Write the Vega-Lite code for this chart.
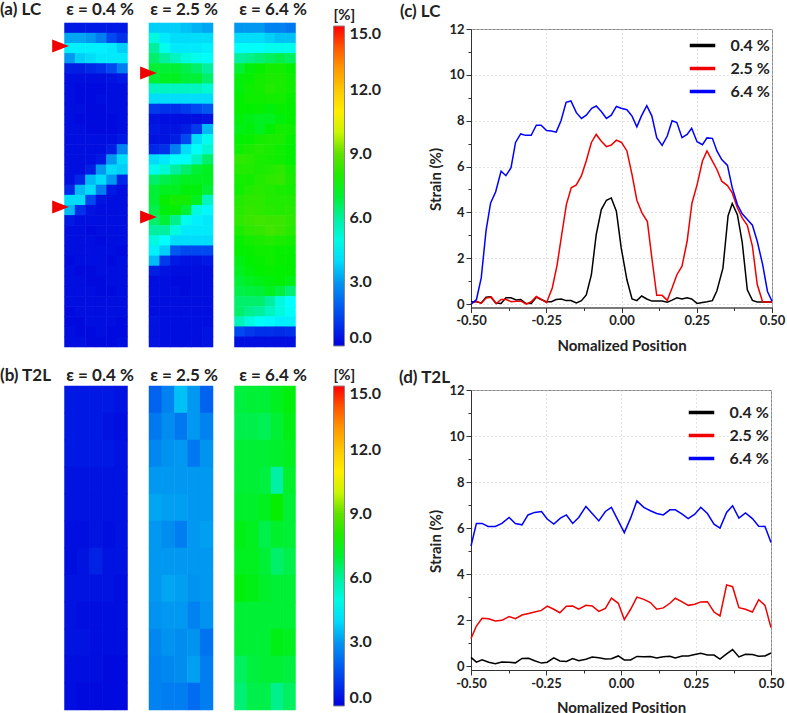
{"$schema":"https://vega.github.io/schema/vega-lite/v6.json","padding":0,"background":"white",
"datasets":{
"one":[{"n":1}],
"tA1":[{"p":-0.063,"q":0.071},{"p":-0.063,"q":0.568}],
"tA2":[{"p":-0.008,"q":0.154},{"p":-0.008,"q":0.599}],
"bar":[{"k":1.5},{"k":3},{"k":4.5},{"k":6},{"k":7.5},{"k":9},{"k":10.5},{"k":12},{"k":13.5}],
"a1":[
{"c":0,"r":0,"v":0.5},{"c":1,"r":0,"v":0.5},{"c":2,"r":0,"v":0.5},{"c":3,"r":0,"v":0.5},{"c":4,"r":0,"v":0.5},{"c":5,"r":0,"v":0.5},
{"c":0,"r":1,"v":3.2},{"c":1,"r":1,"v":3.2},{"c":2,"r":1,"v":3},{"c":3,"r":1,"v":2.5},{"c":4,"r":1,"v":1.5},{"c":5,"r":1,"v":1},
{"c":0,"r":2,"v":4.3},{"c":1,"r":2,"v":4.3},{"c":2,"r":2,"v":4.3},{"c":3,"r":2,"v":4.3},{"c":4,"r":2,"v":4.2},{"c":5,"r":2,"v":3.8},
{"c":0,"r":3,"v":3},{"c":1,"r":3,"v":3.8},{"c":2,"r":3,"v":4},{"c":3,"r":3,"v":4.2},{"c":4,"r":3,"v":4.2},{"c":5,"r":3,"v":4.2},
{"c":0,"r":4,"v":0.6},{"c":1,"r":4,"v":0.6},{"c":2,"r":4,"v":0.8},{"c":3,"r":4,"v":1},{"c":4,"r":4,"v":1.5},{"c":5,"r":4,"v":2.5},
{"c":0,"r":5,"v":0.3},{"c":1,"r":5,"v":0.3},{"c":2,"r":5,"v":0.3},{"c":3,"r":5,"v":0.3},{"c":4,"r":5,"v":0.4},{"c":5,"r":5,"v":0.5},
{"c":0,"r":6,"v":0.3},{"c":1,"r":6,"v":0.2},{"c":2,"r":6,"v":0.2},{"c":3,"r":6,"v":0.2},{"c":4,"r":6,"v":0.3},{"c":5,"r":6,"v":0.3},
{"c":0,"r":7,"v":0.3},{"c":1,"r":7,"v":0.2},{"c":2,"r":7,"v":0.2},{"c":3,"r":7,"v":0.3},{"c":4,"r":7,"v":0.3},{"c":5,"r":7,"v":0.3},
{"c":0,"r":8,"v":0.3},{"c":1,"r":8,"v":0.3},{"c":2,"r":8,"v":0.2},{"c":3,"r":8,"v":0.2},{"c":4,"r":8,"v":0.3},{"c":5,"r":8,"v":0.3},
{"c":0,"r":9,"v":0.3},{"c":1,"r":9,"v":0.2},{"c":2,"r":9,"v":0.2},{"c":3,"r":9,"v":0.2},{"c":4,"r":9,"v":0.2},{"c":5,"r":9,"v":0.3},
{"c":0,"r":10,"v":0.3},{"c":1,"r":10,"v":0.3},{"c":2,"r":10,"v":0.2},{"c":3,"r":10,"v":0.2},{"c":4,"r":10,"v":0.2},{"c":5,"r":10,"v":0.3},
{"c":0,"r":11,"v":0.3},{"c":1,"r":11,"v":0.3},{"c":2,"r":11,"v":0.3},{"c":3,"r":11,"v":0.3},{"c":4,"r":11,"v":0.3},{"c":5,"r":11,"v":0.5},
{"c":0,"r":12,"v":0.3},{"c":1,"r":12,"v":0.3},{"c":2,"r":12,"v":0.3},{"c":3,"r":12,"v":0.3},{"c":4,"r":12,"v":0.6},{"c":5,"r":12,"v":2.6},
{"c":0,"r":13,"v":0.3},{"c":1,"r":13,"v":0.3},{"c":2,"r":13,"v":0.3},{"c":3,"r":13,"v":0.5},{"c":4,"r":13,"v":3},{"c":5,"r":13,"v":4},
{"c":0,"r":14,"v":0.3},{"c":1,"r":14,"v":0.3},{"c":2,"r":14,"v":0.6},{"c":3,"r":14,"v":3},{"c":4,"r":14,"v":4},{"c":5,"r":14,"v":3.8},
{"c":0,"r":15,"v":0.3},{"c":1,"r":15,"v":0.8},{"c":2,"r":15,"v":3.5},{"c":3,"r":15,"v":4},{"c":4,"r":15,"v":3},{"c":5,"r":15,"v":0.8},
{"c":0,"r":16,"v":0.8},{"c":1,"r":16,"v":3.5},{"c":2,"r":16,"v":4},{"c":3,"r":16,"v":2.5},{"c":4,"r":16,"v":0.5},{"c":5,"r":16,"v":0.3},
{"c":0,"r":17,"v":4},{"c":1,"r":17,"v":4},{"c":2,"r":17,"v":1.5},{"c":3,"r":17,"v":0.4},{"c":4,"r":17,"v":0.3},{"c":5,"r":17,"v":0.3},
{"c":0,"r":18,"v":3.5},{"c":1,"r":18,"v":1},{"c":2,"r":18,"v":0.4},{"c":3,"r":18,"v":0.3},{"c":4,"r":18,"v":0.3},{"c":5,"r":18,"v":0.3},
{"c":0,"r":19,"v":0.5},{"c":1,"r":19,"v":0.3},{"c":2,"r":19,"v":0.3},{"c":3,"r":19,"v":0.3},{"c":4,"r":19,"v":0.3},{"c":5,"r":19,"v":0.3},
{"c":0,"r":20,"v":0.3},{"c":1,"r":20,"v":0.3},{"c":2,"r":20,"v":0.2},{"c":3,"r":20,"v":0.3},{"c":4,"r":20,"v":0.3},{"c":5,"r":20,"v":0.3},
{"c":0,"r":21,"v":0.3},{"c":1,"r":21,"v":0.3},{"c":2,"r":21,"v":0.3},{"c":3,"r":21,"v":0.2},{"c":4,"r":21,"v":0.3},{"c":5,"r":21,"v":0.3},
{"c":0,"r":22,"v":0.3},{"c":1,"r":22,"v":0.3},{"c":2,"r":22,"v":0.3},{"c":3,"r":22,"v":0.3},{"c":4,"r":22,"v":0.3},{"c":5,"r":22,"v":0.2},
{"c":0,"r":23,"v":0.2},{"c":1,"r":23,"v":0.3},{"c":2,"r":23,"v":0.3},{"c":3,"r":23,"v":0.3},{"c":4,"r":23,"v":0.2},{"c":5,"r":23,"v":0.3},
{"c":0,"r":24,"v":0.3},{"c":1,"r":24,"v":0.2},{"c":2,"r":24,"v":0.2},{"c":3,"r":24,"v":0.3},{"c":4,"r":24,"v":0.3},{"c":5,"r":24,"v":0.3},
{"c":0,"r":25,"v":0.3},{"c":1,"r":25,"v":0.3},{"c":2,"r":25,"v":0.2},{"c":3,"r":25,"v":0.2},{"c":4,"r":25,"v":0.3},{"c":5,"r":25,"v":0.3},
{"c":0,"r":26,"v":0.3},{"c":1,"r":26,"v":0.3},{"c":2,"r":26,"v":0.3},{"c":3,"r":26,"v":0.2},{"c":4,"r":26,"v":0.2},{"c":5,"r":26,"v":0.3},
{"c":0,"r":27,"v":0.3},{"c":1,"r":27,"v":0.3},{"c":2,"r":27,"v":0.3},{"c":3,"r":27,"v":0.3},{"c":4,"r":27,"v":0.3},{"c":5,"r":27,"v":0.3},
{"c":0,"r":28,"v":0.2},{"c":1,"r":28,"v":0.3},{"c":2,"r":28,"v":0.3},{"c":3,"r":28,"v":0.3},{"c":4,"r":28,"v":0.3},{"c":5,"r":28,"v":0.3},
{"c":0,"r":29,"v":0.2},{"c":1,"r":29,"v":0.2},{"c":2,"r":29,"v":0.3},{"c":3,"r":29,"v":0.3},{"c":4,"r":29,"v":0.3},{"c":5,"r":29,"v":0.2},
{"c":0,"r":30,"v":0.3},{"c":1,"r":30,"v":0.2},{"c":2,"r":30,"v":0.2},{"c":3,"r":30,"v":0.3},{"c":4,"r":30,"v":0.2},{"c":5,"r":30,"v":0.2},
{"c":0,"r":31,"v":0.3},{"c":1,"r":31,"v":0.3},{"c":2,"r":31,"v":0.2},{"c":3,"r":31,"v":0.2},{"c":4,"r":31,"v":0.2},{"c":5,"r":31,"v":0.3}],
"a2":[
{"c":0,"r":0,"v":3.8},{"c":1,"r":0,"v":3.8},{"c":2,"r":0,"v":3.8},{"c":3,"r":0,"v":3.6},{"c":4,"r":0,"v":3.4},{"c":5,"r":0,"v":3.2},
{"c":0,"r":1,"v":5},{"c":1,"r":1,"v":4.2},{"c":2,"r":1,"v":4},{"c":3,"r":1,"v":4},{"c":4,"r":1,"v":4},{"c":5,"r":1,"v":4},
{"c":0,"r":2,"v":6},{"c":1,"r":2,"v":4.8},{"c":2,"r":2,"v":4.2},{"c":3,"r":2,"v":4.2},{"c":4,"r":2,"v":4.2},{"c":5,"r":2,"v":4.3},
{"c":0,"r":3,"v":6.5},{"c":1,"r":3,"v":6},{"c":2,"r":3,"v":5.5},{"c":3,"r":3,"v":5},{"c":4,"r":3,"v":4.8},{"c":5,"r":3,"v":4.6},
{"c":0,"r":4,"v":7},{"c":1,"r":4,"v":7},{"c":2,"r":4,"v":7},{"c":3,"r":4,"v":6.8},{"c":4,"r":4,"v":6.5},{"c":5,"r":4,"v":6},
{"c":0,"r":5,"v":7},{"c":1,"r":5,"v":7.2},{"c":2,"r":5,"v":7.2},{"c":3,"r":5,"v":7},{"c":4,"r":5,"v":7},{"c":5,"r":5,"v":6.5},
{"c":0,"r":6,"v":5.5},{"c":1,"r":6,"v":5.5},{"c":2,"r":6,"v":5.5},{"c":3,"r":6,"v":5.5},{"c":4,"r":6,"v":5.5},{"c":5,"r":6,"v":5.2},
{"c":0,"r":7,"v":4},{"c":1,"r":7,"v":4},{"c":2,"r":7,"v":4},{"c":3,"r":7,"v":4},{"c":4,"r":7,"v":4},{"c":5,"r":7,"v":4},
{"c":0,"r":8,"v":1.2},{"c":1,"r":8,"v":1},{"c":2,"r":8,"v":1},{"c":3,"r":8,"v":1.2},{"c":4,"r":8,"v":1.5},{"c":5,"r":8,"v":1.8},
{"c":0,"r":9,"v":0.4},{"c":1,"r":9,"v":0.3},{"c":2,"r":9,"v":0.3},{"c":3,"r":9,"v":0.3},{"c":4,"r":9,"v":0.3},{"c":5,"r":9,"v":0.4},
{"c":0,"r":10,"v":0.5},{"c":1,"r":10,"v":0.4},{"c":2,"r":10,"v":0.4},{"c":3,"r":10,"v":0.6},{"c":4,"r":10,"v":1.2},{"c":5,"r":10,"v":3.5},
{"c":0,"r":11,"v":0.4},{"c":1,"r":11,"v":0.4},{"c":2,"r":11,"v":0.6},{"c":3,"r":11,"v":1.5},{"c":4,"r":11,"v":4},{"c":5,"r":11,"v":4.8},
{"c":0,"r":12,"v":0.8},{"c":1,"r":12,"v":1},{"c":2,"r":12,"v":2.5},{"c":3,"r":12,"v":4},{"c":4,"r":12,"v":4.6},{"c":5,"r":12,"v":5.2},
{"c":0,"r":13,"v":4},{"c":1,"r":13,"v":4.2},{"c":2,"r":13,"v":4.5},{"c":3,"r":13,"v":4.6},{"c":4,"r":13,"v":5.5},{"c":5,"r":13,"v":6.5},
{"c":0,"r":14,"v":4.8},{"c":1,"r":14,"v":5.2},{"c":2,"r":14,"v":6},{"c":3,"r":14,"v":6.5},{"c":4,"r":14,"v":7},{"c":5,"r":14,"v":7.2},
{"c":0,"r":15,"v":6.5},{"c":1,"r":15,"v":6.8},{"c":2,"r":15,"v":7},{"c":3,"r":15,"v":7.2},{"c":4,"r":15,"v":7.2},{"c":5,"r":15,"v":7.2},
{"c":0,"r":16,"v":7},{"c":1,"r":16,"v":7.2},{"c":2,"r":16,"v":7.2},{"c":3,"r":16,"v":7.4},{"c":4,"r":16,"v":7.4},{"c":5,"r":16,"v":7},
{"c":0,"r":17,"v":7},{"c":1,"r":17,"v":7.6},{"c":2,"r":17,"v":7.8},{"c":3,"r":17,"v":7.8},{"c":4,"r":17,"v":7.2},{"c":5,"r":17,"v":5.5},
{"c":0,"r":18,"v":6.8},{"c":1,"r":18,"v":7.4},{"c":2,"r":18,"v":7.6},{"c":3,"r":18,"v":7},{"c":4,"r":18,"v":5},{"c":5,"r":18,"v":4.4},
{"c":0,"r":19,"v":6.5},{"c":1,"r":19,"v":7},{"c":2,"r":19,"v":6.2},{"c":3,"r":19,"v":4.8},{"c":4,"r":19,"v":4.3},{"c":5,"r":19,"v":4.2},
{"c":0,"r":20,"v":6},{"c":1,"r":20,"v":6},{"c":2,"r":20,"v":5},{"c":3,"r":20,"v":4.2},{"c":4,"r":20,"v":4.2},{"c":5,"r":20,"v":4.2},
{"c":0,"r":21,"v":5},{"c":1,"r":21,"v":4.5},{"c":2,"r":21,"v":4},{"c":3,"r":21,"v":4},{"c":4,"r":21,"v":4},{"c":5,"r":21,"v":4},
{"c":0,"r":22,"v":4.3},{"c":1,"r":22,"v":3.8},{"c":2,"r":22,"v":1.8},{"c":3,"r":22,"v":1.5},{"c":4,"r":22,"v":1.5},{"c":5,"r":22,"v":1.5},
{"c":0,"r":23,"v":3.5},{"c":1,"r":23,"v":1.2},{"c":2,"r":23,"v":0.5},{"c":3,"r":23,"v":0.4},{"c":4,"r":23,"v":0.4},{"c":5,"r":23,"v":0.5},
{"c":0,"r":24,"v":0.6},{"c":1,"r":24,"v":0.4},{"c":2,"r":24,"v":0.3},{"c":3,"r":24,"v":0.3},{"c":4,"r":24,"v":0.3},{"c":5,"r":24,"v":0.3},
{"c":0,"r":25,"v":0.3},{"c":1,"r":25,"v":0.3},{"c":2,"r":25,"v":0.2},{"c":3,"r":25,"v":0.2},{"c":4,"r":25,"v":0.3},{"c":5,"r":25,"v":0.3},
{"c":0,"r":26,"v":0.3},{"c":1,"r":26,"v":0.3},{"c":2,"r":26,"v":0.3},{"c":3,"r":26,"v":0.2},{"c":4,"r":26,"v":0.3},{"c":5,"r":26,"v":0.3},
{"c":0,"r":27,"v":0.3},{"c":1,"r":27,"v":0.3},{"c":2,"r":27,"v":0.3},{"c":3,"r":27,"v":0.3},{"c":4,"r":27,"v":0.3},{"c":5,"r":27,"v":0.3},
{"c":0,"r":28,"v":0.3},{"c":1,"r":28,"v":0.3},{"c":2,"r":28,"v":0.3},{"c":3,"r":28,"v":0.3},{"c":4,"r":28,"v":0.3},{"c":5,"r":28,"v":0.3},
{"c":0,"r":29,"v":0.4},{"c":1,"r":29,"v":0.3},{"c":2,"r":29,"v":0.3},{"c":3,"r":29,"v":0.3},{"c":4,"r":29,"v":0.3},{"c":5,"r":29,"v":0.3},
{"c":0,"r":30,"v":0.4},{"c":1,"r":30,"v":0.3},{"c":2,"r":30,"v":0.3},{"c":3,"r":30,"v":0.3},{"c":4,"r":30,"v":0.3},{"c":5,"r":30,"v":0.4},
{"c":0,"r":31,"v":0.4},{"c":1,"r":31,"v":0.3},{"c":2,"r":31,"v":0.3},{"c":3,"r":31,"v":0.3},{"c":4,"r":31,"v":0.3},{"c":5,"r":31,"v":0.4}],
"a3":[
{"c":0,"r":0,"v":3},{"c":1,"r":0,"v":3},{"c":2,"r":0,"v":3},{"c":3,"r":0,"v":2.6},{"c":4,"r":0,"v":2.6},{"c":5,"r":0,"v":2.4},
{"c":0,"r":1,"v":4},{"c":1,"r":1,"v":4},{"c":2,"r":1,"v":4},{"c":3,"r":1,"v":3.8},{"c":4,"r":1,"v":3.6},{"c":5,"r":1,"v":3.6},
{"c":0,"r":2,"v":4.6},{"c":1,"r":2,"v":4.6},{"c":2,"r":2,"v":4.6},{"c":3,"r":2,"v":4.8},{"c":4,"r":2,"v":4.8},{"c":5,"r":2,"v":4.8},
{"c":0,"r":3,"v":6},{"c":1,"r":3,"v":6.2},{"c":2,"r":3,"v":6.4},{"c":3,"r":3,"v":6.6},{"c":4,"r":3,"v":6.8},{"c":5,"r":3,"v":6.6},
{"c":0,"r":4,"v":7},{"c":1,"r":4,"v":7.4},{"c":2,"r":4,"v":7.6},{"c":3,"r":4,"v":7.8},{"c":4,"r":4,"v":7.8},{"c":5,"r":4,"v":7.6},
{"c":0,"r":5,"v":7.4},{"c":1,"r":5,"v":7.6},{"c":2,"r":5,"v":7.8},{"c":3,"r":5,"v":7.9},{"c":4,"r":5,"v":7.9},{"c":5,"r":5,"v":7.7},
{"c":0,"r":6,"v":7.4},{"c":1,"r":6,"v":7.7},{"c":2,"r":6,"v":7.8},{"c":3,"r":6,"v":8},{"c":4,"r":6,"v":7.9},{"c":5,"r":6,"v":7.7},
{"c":0,"r":7,"v":7.5},{"c":1,"r":7,"v":7.7},{"c":2,"r":7,"v":7.7},{"c":3,"r":7,"v":7.8},{"c":4,"r":7,"v":7.8},{"c":5,"r":7,"v":7.6},
{"c":0,"r":8,"v":7.5},{"c":1,"r":8,"v":7.5},{"c":2,"r":8,"v":7.6},{"c":3,"r":8,"v":7.4},{"c":4,"r":8,"v":7.6},{"c":5,"r":8,"v":7.5},
{"c":0,"r":9,"v":7.4},{"c":1,"r":9,"v":7.3},{"c":2,"r":9,"v":7.2},{"c":3,"r":9,"v":7.2},{"c":4,"r":9,"v":7.4},{"c":5,"r":9,"v":7.5},
{"c":0,"r":10,"v":7.3},{"c":1,"r":10,"v":7.4},{"c":2,"r":10,"v":7.2},{"c":3,"r":10,"v":7.5},{"c":4,"r":10,"v":7.8},{"c":5,"r":10,"v":7.7},
{"c":0,"r":11,"v":7.5},{"c":1,"r":11,"v":7.6},{"c":2,"r":11,"v":7.8},{"c":3,"r":11,"v":7.9},{"c":4,"r":11,"v":7.9},{"c":5,"r":11,"v":7.6},
{"c":0,"r":12,"v":7.7},{"c":1,"r":12,"v":7.9},{"c":2,"r":12,"v":8},{"c":3,"r":12,"v":7.9},{"c":4,"r":12,"v":7.7},{"c":5,"r":12,"v":7.5},
{"c":0,"r":13,"v":8.2},{"c":1,"r":13,"v":8.1},{"c":2,"r":13,"v":7.9},{"c":3,"r":13,"v":7.8},{"c":4,"r":13,"v":7.7},{"c":5,"r":13,"v":7.5},
{"c":0,"r":14,"v":8},{"c":1,"r":14,"v":8},{"c":2,"r":14,"v":7.9},{"c":3,"r":14,"v":8},{"c":4,"r":14,"v":8.2},{"c":5,"r":14,"v":7.8},
{"c":0,"r":15,"v":7.8},{"c":1,"r":15,"v":7.8},{"c":2,"r":15,"v":8},{"c":3,"r":15,"v":8.2},{"c":4,"r":15,"v":8.3},{"c":5,"r":15,"v":7.9},
{"c":0,"r":16,"v":7.7},{"c":1,"r":16,"v":8},{"c":2,"r":16,"v":8.1},{"c":3,"r":16,"v":8},{"c":4,"r":16,"v":7.9},{"c":5,"r":16,"v":7.8},
{"c":0,"r":17,"v":8},{"c":1,"r":17,"v":8.2},{"c":2,"r":17,"v":8.2},{"c":3,"r":17,"v":8},{"c":4,"r":17,"v":8},{"c":5,"r":17,"v":8},
{"c":0,"r":18,"v":8.1},{"c":1,"r":18,"v":8.3},{"c":2,"r":18,"v":8.2},{"c":3,"r":18,"v":8.1},{"c":4,"r":18,"v":8},{"c":5,"r":18,"v":8.1},
{"c":0,"r":19,"v":8.2},{"c":1,"r":19,"v":8.4},{"c":2,"r":19,"v":8.5},{"c":3,"r":19,"v":8.4},{"c":4,"r":19,"v":8.4},{"c":5,"r":19,"v":8.2},
{"c":0,"r":20,"v":7.9},{"c":1,"r":20,"v":8.2},{"c":2,"r":20,"v":8.3},{"c":3,"r":20,"v":8.5},{"c":4,"r":20,"v":8.4},{"c":5,"r":20,"v":8.1},
{"c":0,"r":21,"v":7.6},{"c":1,"r":21,"v":7.8},{"c":2,"r":21,"v":7.9},{"c":3,"r":21,"v":8},{"c":4,"r":21,"v":7.9},{"c":5,"r":21,"v":7.8},
{"c":0,"r":22,"v":7.5},{"c":1,"r":22,"v":7.6},{"c":2,"r":22,"v":7.7},{"c":3,"r":22,"v":7.7},{"c":4,"r":22,"v":7.6},{"c":5,"r":22,"v":7.6},
{"c":0,"r":23,"v":7.3},{"c":1,"r":23,"v":7.5},{"c":2,"r":23,"v":7.6},{"c":3,"r":23,"v":7.7},{"c":4,"r":23,"v":7.6},{"c":5,"r":23,"v":7.5},
{"c":0,"r":24,"v":7.2},{"c":1,"r":24,"v":7.4},{"c":2,"r":24,"v":7.5},{"c":3,"r":24,"v":7.6},{"c":4,"r":24,"v":7.5},{"c":5,"r":24,"v":7.5},
{"c":0,"r":25,"v":7},{"c":1,"r":25,"v":7.2},{"c":2,"r":25,"v":7.3},{"c":3,"r":25,"v":7.4},{"c":4,"r":25,"v":7.5},{"c":5,"r":25,"v":7.3},
{"c":0,"r":26,"v":6.8},{"c":1,"r":26,"v":6.9},{"c":2,"r":26,"v":7},{"c":3,"r":26,"v":7.2},{"c":4,"r":26,"v":6.9},{"c":5,"r":26,"v":6.4},
{"c":0,"r":27,"v":6.5},{"c":1,"r":27,"v":6.5},{"c":2,"r":27,"v":6.5},{"c":3,"r":27,"v":6},{"c":4,"r":27,"v":5},{"c":5,"r":27,"v":4.5},
{"c":0,"r":28,"v":6.5},{"c":1,"r":28,"v":6.2},{"c":2,"r":28,"v":6},{"c":3,"r":28,"v":5.5},{"c":4,"r":28,"v":5},{"c":5,"r":28,"v":4.6},
{"c":0,"r":29,"v":5.6},{"c":1,"r":29,"v":5},{"c":2,"r":29,"v":4.6},{"c":3,"r":29,"v":4.4},{"c":4,"r":29,"v":4.3},{"c":5,"r":29,"v":4.3},
{"c":0,"r":30,"v":1.5},{"c":1,"r":30,"v":1.2},{"c":2,"r":30,"v":1},{"c":3,"r":30,"v":1},{"c":4,"r":30,"v":0.9},{"c":5,"r":30,"v":1},
{"c":0,"r":31,"v":0.3},{"c":1,"r":31,"v":0.3},{"c":2,"r":31,"v":0.3},{"c":3,"r":31,"v":0.3},{"c":4,"r":31,"v":0.3},{"c":5,"r":31,"v":0.3}],
"b1":[
{"c":0,"r":0,"v":0.5},{"c":1,"r":0,"v":0.5},{"c":2,"r":0,"v":0.5},{"c":3,"r":0,"v":0.5},{"c":4,"r":0,"v":0.4},
{"c":0,"r":1,"v":0.5},{"c":1,"r":1,"v":0.5},{"c":2,"r":1,"v":0.5},{"c":3,"r":1,"v":0.4},{"c":4,"r":1,"v":0.3},
{"c":0,"r":2,"v":0.5},{"c":1,"r":2,"v":0.5},{"c":2,"r":2,"v":0.5},{"c":3,"r":2,"v":0.5},{"c":4,"r":2,"v":0.4},
{"c":0,"r":3,"v":0.4},{"c":1,"r":3,"v":0.4},{"c":2,"r":3,"v":0.4},{"c":3,"r":3,"v":0.4},{"c":4,"r":3,"v":0.4},
{"c":0,"r":4,"v":0.4},{"c":1,"r":4,"v":0.4},{"c":2,"r":4,"v":0.4},{"c":3,"r":4,"v":0.4},{"c":4,"r":4,"v":0.4},
{"c":0,"r":5,"v":0.3},{"c":1,"r":5,"v":0.3},{"c":2,"r":5,"v":0.4},{"c":3,"r":5,"v":0.3},{"c":4,"r":5,"v":0.4},
{"c":0,"r":6,"v":0.3},{"c":1,"r":6,"v":0.4},{"c":2,"r":6,"v":0.7},{"c":3,"r":6,"v":0.4},{"c":4,"r":6,"v":0.4},
{"c":0,"r":7,"v":0.4},{"c":1,"r":7,"v":0.4},{"c":2,"r":7,"v":0.4},{"c":3,"r":7,"v":0.4},{"c":4,"r":7,"v":0.3},
{"c":0,"r":8,"v":0.4},{"c":1,"r":8,"v":0.3},{"c":2,"r":8,"v":0.3},{"c":3,"r":8,"v":0.3},{"c":4,"r":8,"v":0.3},
{"c":0,"r":9,"v":0.4},{"c":1,"r":9,"v":0.4},{"c":2,"r":9,"v":0.3},{"c":3,"r":9,"v":0.3},{"c":4,"r":9,"v":0.3},
{"c":0,"r":10,"v":0.3},{"c":1,"r":10,"v":0.3},{"c":2,"r":10,"v":0.3},{"c":3,"r":10,"v":0.2},{"c":4,"r":10,"v":0.2},
{"c":0,"r":11,"v":0.3},{"c":1,"r":11,"v":0.2},{"c":2,"r":11,"v":0.2},{"c":3,"r":11,"v":0.2},{"c":4,"r":11,"v":0.2}],
"b2":[
{"c":0,"r":0,"v":2},{"c":1,"r":0,"v":2.6},{"c":2,"r":0,"v":3.6},{"c":3,"r":0,"v":3},{"c":4,"r":0,"v":2},
{"c":0,"r":1,"v":2.4},{"c":1,"r":1,"v":2.8},{"c":2,"r":1,"v":2.4},{"c":3,"r":1,"v":3},{"c":4,"r":1,"v":2.6},
{"c":0,"r":2,"v":2.7},{"c":1,"r":2,"v":2.9},{"c":2,"r":2,"v":3},{"c":3,"r":2,"v":2.4},{"c":4,"r":2,"v":2.9},
{"c":0,"r":3,"v":3},{"c":1,"r":3,"v":3},{"c":2,"r":3,"v":3},{"c":3,"r":3,"v":3},{"c":4,"r":3,"v":3},
{"c":0,"r":4,"v":3.2},{"c":1,"r":4,"v":3.1},{"c":2,"r":4,"v":3.1},{"c":3,"r":4,"v":3},{"c":4,"r":4,"v":3},
{"c":0,"r":5,"v":3},{"c":1,"r":5,"v":2.8},{"c":2,"r":5,"v":2.5},{"c":3,"r":5,"v":3},{"c":4,"r":5,"v":3.1},
{"c":0,"r":6,"v":3},{"c":1,"r":6,"v":3},{"c":2,"r":6,"v":3},{"c":3,"r":6,"v":3},{"c":4,"r":6,"v":3},
{"c":0,"r":7,"v":3},{"c":1,"r":7,"v":3.2},{"c":2,"r":7,"v":3.1},{"c":3,"r":7,"v":2.9},{"c":4,"r":7,"v":3},
{"c":0,"r":8,"v":2.9},{"c":1,"r":8,"v":3},{"c":2,"r":8,"v":3},{"c":3,"r":8,"v":2.6},{"c":4,"r":8,"v":2.9},
{"c":0,"r":9,"v":2.7},{"c":1,"r":9,"v":2.9},{"c":2,"r":9,"v":2.8},{"c":3,"r":9,"v":2.9},{"c":4,"r":9,"v":2.3},
{"c":0,"r":10,"v":2.6},{"c":1,"r":10,"v":2.7},{"c":2,"r":10,"v":2.8},{"c":3,"r":10,"v":3.1},{"c":4,"r":10,"v":2.5},
{"c":0,"r":11,"v":2.6},{"c":1,"r":11,"v":2.5},{"c":2,"r":11,"v":2.5},{"c":3,"r":11,"v":2.2},{"c":4,"r":11,"v":2.5}],
"b3":[
{"c":0,"r":0,"v":6.9},{"c":1,"r":0,"v":7},{"c":2,"r":0,"v":7},{"c":3,"r":0,"v":7.2},{"c":4,"r":0,"v":7.4},
{"c":0,"r":1,"v":6.8},{"c":1,"r":1,"v":6.8},{"c":2,"r":1,"v":6.7},{"c":3,"r":1,"v":7},{"c":4,"r":1,"v":7.3},
{"c":0,"r":2,"v":7},{"c":1,"r":2,"v":7},{"c":2,"r":2,"v":7},{"c":3,"r":2,"v":7.1},{"c":4,"r":2,"v":7.2},
{"c":0,"r":3,"v":7},{"c":1,"r":3,"v":7},{"c":2,"r":3,"v":6.9},{"c":3,"r":3,"v":5.9},{"c":4,"r":3,"v":7.1},
{"c":0,"r":4,"v":7.1},{"c":1,"r":4,"v":7.1},{"c":2,"r":4,"v":7.2},{"c":3,"r":4,"v":7.6},{"c":4,"r":4,"v":7},
{"c":0,"r":5,"v":7.3},{"c":1,"r":5,"v":7.2},{"c":2,"r":5,"v":6.8},{"c":3,"r":5,"v":7.1},{"c":4,"r":5,"v":7},
{"c":0,"r":6,"v":7.2},{"c":1,"r":6,"v":7.2},{"c":2,"r":6,"v":7},{"c":3,"r":6,"v":6.5},{"c":4,"r":6,"v":6.8},
{"c":0,"r":7,"v":7.4},{"c":1,"r":7,"v":7.3},{"c":2,"r":7,"v":7.1},{"c":3,"r":7,"v":7},{"c":4,"r":7,"v":7},
{"c":0,"r":8,"v":7},{"c":1,"r":8,"v":7},{"c":2,"r":8,"v":7},{"c":3,"r":8,"v":7},{"c":4,"r":8,"v":7},
{"c":0,"r":9,"v":7},{"c":1,"r":9,"v":7},{"c":2,"r":9,"v":7},{"c":3,"r":9,"v":7.3},{"c":4,"r":9,"v":7.2},
{"c":0,"r":10,"v":6.6},{"c":1,"r":10,"v":6.9},{"c":2,"r":10,"v":7},{"c":3,"r":10,"v":7},{"c":4,"r":10,"v":6.9},
{"c":0,"r":11,"v":6.4},{"c":1,"r":11,"v":6.8},{"c":2,"r":11,"v":6.8},{"c":3,"r":11,"v":6.2},{"c":4,"r":11,"v":6.6}],
"c":[
{"s":"0.4 %","p":-0.5,"v":0.1},{"s":"0.4 %","p":-0.482,"v":0.1},{"s":"0.4 %","p":-0.466,"v":0.05},{"s":"0.4 %","p":-0.45,"v":0.3},{"s":"0.4 %","p":-0.435,"v":0.32},{"s":"0.4 %","p":-0.418,"v":0.05},{"s":"0.4 %","p":-0.4,"v":0.03},{"s":"0.4 %","p":-0.384,"v":0.27},{"s":"0.4 %","p":-0.367,"v":0.27},{"s":"0.4 %","p":-0.35,"v":0.18},{"s":"0.4 %","p":-0.335,"v":0.2},{"s":"0.4 %","p":-0.318,"v":0.03},{"s":"0.4 %","p":-0.3,"v":0.02},{"s":"0.4 %","p":-0.283,"v":0.3},{"s":"0.4 %","p":-0.267,"v":0.2},{"s":"0.4 %","p":-0.25,"v":0.1},{"s":"0.4 %","p":-0.233,"v":0.1},{"s":"0.4 %","p":-0.217,"v":0.2},{"s":"0.4 %","p":-0.2,"v":0.22},{"s":"0.4 %","p":-0.184,"v":0.15},{"s":"0.4 %","p":-0.168,"v":0.15},{"s":"0.4 %","p":-0.15,"v":0.05},{"s":"0.4 %","p":-0.133,"v":0.15},{"s":"0.4 %","p":-0.117,"v":0.4},{"s":"0.4 %","p":-0.1,"v":1.28},{"s":"0.4 %","p":-0.084,"v":3.03},{"s":"0.4 %","p":-0.067,"v":4.12},{"s":"0.4 %","p":-0.05,"v":4.53},{"s":"0.4 %","p":-0.034,"v":4.63},{"s":"0.4 %","p":-0.017,"v":4.05},{"s":"0.4 %","p":-0.001,"v":2.45},{"s":"0.4 %","p":0.018,"v":1.06},{"s":"0.4 %","p":0.035,"v":0.22},{"s":"0.4 %","p":0.051,"v":0.15},{"s":"0.4 %","p":0.067,"v":0.35},{"s":"0.4 %","p":0.084,"v":0.22},{"s":"0.4 %","p":0.101,"v":0.13},{"s":"0.4 %","p":0.117,"v":0.13},{"s":"0.4 %","p":0.135,"v":0.13},{"s":"0.4 %","p":0.152,"v":0.08},{"s":"0.4 %","p":0.168,"v":0.17},{"s":"0.4 %","p":0.184,"v":0.27},{"s":"0.4 %","p":0.201,"v":0.22},{"s":"0.4 %","p":0.218,"v":0.27},{"s":"0.4 %","p":0.233,"v":0.22},{"s":"0.4 %","p":0.251,"v":0.03},{"s":"0.4 %","p":0.269,"v":0.07},{"s":"0.4 %","p":0.284,"v":0.1},{"s":"0.4 %","p":0.302,"v":0.15},{"s":"0.4 %","p":0.317,"v":0.58},{"s":"0.4 %","p":0.337,"v":1.57},{"s":"0.4 %","p":0.354,"v":3.85},{"s":"0.4 %","p":0.368,"v":4.39},{"s":"0.4 %","p":0.385,"v":3.9},{"s":"0.4 %","p":0.401,"v":2.7},{"s":"0.4 %","p":0.418,"v":0.62},{"s":"0.4 %","p":0.435,"v":0.16},{"s":"0.4 %","p":0.451,"v":0.09},{"s":"0.4 %","p":0.469,"v":0.09},{"s":"0.4 %","p":0.485,"v":0.09},{"s":"0.4 %","p":0.5,"v":0.09},
{"s":"2.5 %","p":-0.5,"v":0.05},{"s":"2.5 %","p":-0.482,"v":0.12},{"s":"2.5 %","p":-0.466,"v":0.03},{"s":"2.5 %","p":-0.45,"v":0.26},{"s":"2.5 %","p":-0.432,"v":0.3},{"s":"2.5 %","p":-0.416,"v":0.02},{"s":"2.5 %","p":-0.4,"v":0.2},{"s":"2.5 %","p":-0.383,"v":0.2},{"s":"2.5 %","p":-0.366,"v":0.1},{"s":"2.5 %","p":-0.35,"v":0.12},{"s":"2.5 %","p":-0.333,"v":0.12},{"s":"2.5 %","p":-0.316,"v":0},{"s":"2.5 %","p":-0.3,"v":0.1},{"s":"2.5 %","p":-0.283,"v":0.33},{"s":"2.5 %","p":-0.266,"v":0.2},{"s":"2.5 %","p":-0.249,"v":0.06},{"s":"2.5 %","p":-0.23,"v":0.7},{"s":"2.5 %","p":-0.214,"v":1.7},{"s":"2.5 %","p":-0.199,"v":3},{"s":"2.5 %","p":-0.183,"v":4.35},{"s":"2.5 %","p":-0.167,"v":5.07},{"s":"2.5 %","p":-0.15,"v":5.2},{"s":"2.5 %","p":-0.133,"v":5.6},{"s":"2.5 %","p":-0.117,"v":6.25},{"s":"2.5 %","p":-0.1,"v":7.05},{"s":"2.5 %","p":-0.084,"v":7.4},{"s":"2.5 %","p":-0.067,"v":7.1},{"s":"2.5 %","p":-0.05,"v":6.87},{"s":"2.5 %","p":-0.034,"v":6.94},{"s":"2.5 %","p":-0.017,"v":7.15},{"s":"2.5 %","p":0,"v":7.05},{"s":"2.5 %","p":0.018,"v":6.68},{"s":"2.5 %","p":0.035,"v":5.65},{"s":"2.5 %","p":0.051,"v":4.53},{"s":"2.5 %","p":0.068,"v":3.98},{"s":"2.5 %","p":0.086,"v":3.6},{"s":"2.5 %","p":0.101,"v":2},{"s":"2.5 %","p":0.117,"v":0.38},{"s":"2.5 %","p":0.135,"v":0.38},{"s":"2.5 %","p":0.152,"v":0.16},{"s":"2.5 %","p":0.168,"v":0.7},{"s":"2.5 %","p":0.184,"v":1.28},{"s":"2.5 %","p":0.201,"v":1.65},{"s":"2.5 %","p":0.218,"v":2.74},{"s":"2.5 %","p":0.234,"v":4.4},{"s":"2.5 %","p":0.251,"v":5.2},{"s":"2.5 %","p":0.269,"v":6.24},{"s":"2.5 %","p":0.284,"v":6.68},{"s":"2.5 %","p":0.302,"v":6.24},{"s":"2.5 %","p":0.317,"v":5.87},{"s":"2.5 %","p":0.333,"v":5.36},{"s":"2.5 %","p":0.352,"v":5.17},{"s":"2.5 %","p":0.368,"v":4.85},{"s":"2.5 %","p":0.385,"v":4.2},{"s":"2.5 %","p":0.401,"v":3.76},{"s":"2.5 %","p":0.418,"v":3.44},{"s":"2.5 %","p":0.435,"v":2.52},{"s":"2.5 %","p":0.451,"v":0.85},{"s":"2.5 %","p":0.469,"v":0.09},{"s":"2.5 %","p":0.485,"v":0.09},{"s":"2.5 %","p":0.5,"v":0.09},
{"s":"6.4 %","p":-0.5,"v":0},{"s":"6.4 %","p":-0.482,"v":0.19},{"s":"6.4 %","p":-0.466,"v":1.14},{"s":"6.4 %","p":-0.45,"v":3.2},{"s":"6.4 %","p":-0.435,"v":4.4},{"s":"6.4 %","p":-0.418,"v":4.9},{"s":"6.4 %","p":-0.4,"v":5.8},{"s":"6.4 %","p":-0.384,"v":5.6},{"s":"6.4 %","p":-0.367,"v":5.95},{"s":"6.4 %","p":-0.352,"v":7.05},{"s":"6.4 %","p":-0.335,"v":7.42},{"s":"6.4 %","p":-0.318,"v":7.36},{"s":"6.4 %","p":-0.3,"v":7.36},{"s":"6.4 %","p":-0.283,"v":7.8},{"s":"6.4 %","p":-0.267,"v":7.8},{"s":"6.4 %","p":-0.249,"v":7.57},{"s":"6.4 %","p":-0.233,"v":7.55},{"s":"6.4 %","p":-0.217,"v":7.5},{"s":"6.4 %","p":-0.201,"v":8},{"s":"6.4 %","p":-0.184,"v":8.8},{"s":"6.4 %","p":-0.168,"v":8.86},{"s":"6.4 %","p":-0.15,"v":8.35},{"s":"6.4 %","p":-0.133,"v":8.1},{"s":"6.4 %","p":-0.117,"v":8.24},{"s":"6.4 %","p":-0.099,"v":8.54},{"s":"6.4 %","p":-0.084,"v":8.64},{"s":"6.4 %","p":-0.067,"v":8.4},{"s":"6.4 %","p":-0.05,"v":8.1},{"s":"6.4 %","p":-0.034,"v":8.24},{"s":"6.4 %","p":-0.017,"v":8.62},{"s":"6.4 %","p":-0.001,"v":8.54},{"s":"6.4 %","p":0.018,"v":8.48},{"s":"6.4 %","p":0.035,"v":8.2},{"s":"6.4 %","p":0.051,"v":7.73},{"s":"6.4 %","p":0.066,"v":8.2},{"s":"6.4 %","p":0.084,"v":8.66},{"s":"6.4 %","p":0.101,"v":8.2},{"s":"6.4 %","p":0.117,"v":7.26},{"s":"6.4 %","p":0.135,"v":6.92},{"s":"6.4 %","p":0.152,"v":7.33},{"s":"6.4 %","p":0.168,"v":8},{"s":"6.4 %","p":0.184,"v":7.92},{"s":"6.4 %","p":0.201,"v":7.26},{"s":"6.4 %","p":0.218,"v":7.4},{"s":"6.4 %","p":0.233,"v":7.67},{"s":"6.4 %","p":0.251,"v":7.08},{"s":"6.4 %","p":0.269,"v":6.95},{"s":"6.4 %","p":0.284,"v":7.25},{"s":"6.4 %","p":0.302,"v":7.23},{"s":"6.4 %","p":0.317,"v":6.68},{"s":"6.4 %","p":0.333,"v":6.3},{"s":"6.4 %","p":0.352,"v":6.05},{"s":"6.4 %","p":0.368,"v":5.07},{"s":"6.4 %","p":0.385,"v":4.34},{"s":"6.4 %","p":0.401,"v":3.94},{"s":"6.4 %","p":0.418,"v":3.69},{"s":"6.4 %","p":0.435,"v":3.44},{"s":"6.4 %","p":0.451,"v":2.74},{"s":"6.4 %","p":0.469,"v":1.72},{"s":"6.4 %","p":0.485,"v":0.55},{"s":"6.4 %","p":0.5,"v":0.12}],
"d":[
{"s":"0.4 %","p":-0.5,"v":0.38},{"s":"0.4 %","p":-0.482,"v":0.17},{"s":"0.4 %","p":-0.463,"v":0.27},{"s":"0.4 %","p":-0.441,"v":0.17},{"s":"0.4 %","p":-0.419,"v":0.1},{"s":"0.4 %","p":-0.397,"v":0.18},{"s":"0.4 %","p":-0.373,"v":0.17},{"s":"0.4 %","p":-0.352,"v":0.14},{"s":"0.4 %","p":-0.33,"v":0.33},{"s":"0.4 %","p":-0.308,"v":0.34},{"s":"0.4 %","p":-0.288,"v":0.23},{"s":"0.4 %","p":-0.265,"v":0.13},{"s":"0.4 %","p":-0.246,"v":0.17},{"s":"0.4 %","p":-0.224,"v":0.36},{"s":"0.4 %","p":-0.204,"v":0.22},{"s":"0.4 %","p":-0.182,"v":0.2},{"s":"0.4 %","p":-0.161,"v":0.33},{"s":"0.4 %","p":-0.141,"v":0.23},{"s":"0.4 %","p":-0.117,"v":0.3},{"s":"0.4 %","p":-0.096,"v":0.39},{"s":"0.4 %","p":-0.074,"v":0.36},{"s":"0.4 %","p":-0.052,"v":0.31},{"s":"0.4 %","p":-0.032,"v":0.32},{"s":"0.4 %","p":-0.009,"v":0.44},{"s":"0.4 %","p":0.011,"v":0.27},{"s":"0.4 %","p":0.032,"v":0.27},{"s":"0.4 %","p":0.053,"v":0.42},{"s":"0.4 %","p":0.076,"v":0.41},{"s":"0.4 %","p":0.098,"v":0.42},{"s":"0.4 %","p":0.119,"v":0.35},{"s":"0.4 %","p":0.141,"v":0.41},{"s":"0.4 %","p":0.163,"v":0.43},{"s":"0.4 %","p":0.181,"v":0.35},{"s":"0.4 %","p":0.204,"v":0.44},{"s":"0.4 %","p":0.224,"v":0.44},{"s":"0.4 %","p":0.246,"v":0.5},{"s":"0.4 %","p":0.266,"v":0.56},{"s":"0.4 %","p":0.288,"v":0.48},{"s":"0.4 %","p":0.31,"v":0.48},{"s":"0.4 %","p":0.33,"v":0.3},{"s":"0.4 %","p":0.352,"v":0.53},{"s":"0.4 %","p":0.372,"v":0.72},{"s":"0.4 %","p":0.393,"v":0.4},{"s":"0.4 %","p":0.415,"v":0.51},{"s":"0.4 %","p":0.438,"v":0.5},{"s":"0.4 %","p":0.459,"v":0.43},{"s":"0.4 %","p":0.48,"v":0.44},{"s":"0.4 %","p":0.5,"v":0.57},
{"s":"2.5 %","p":-0.5,"v":1.2},{"s":"2.5 %","p":-0.482,"v":1.74},{"s":"2.5 %","p":-0.463,"v":2.08},{"s":"2.5 %","p":-0.441,"v":2.06},{"s":"2.5 %","p":-0.419,"v":1.96},{"s":"2.5 %","p":-0.397,"v":1.99},{"s":"2.5 %","p":-0.373,"v":2.15},{"s":"2.5 %","p":-0.352,"v":2.06},{"s":"2.5 %","p":-0.33,"v":2.22},{"s":"2.5 %","p":-0.308,"v":2.29},{"s":"2.5 %","p":-0.288,"v":2.35},{"s":"2.5 %","p":-0.265,"v":2.42},{"s":"2.5 %","p":-0.246,"v":2.61},{"s":"2.5 %","p":-0.224,"v":2.47},{"s":"2.5 %","p":-0.204,"v":2.32},{"s":"2.5 %","p":-0.182,"v":2.6},{"s":"2.5 %","p":-0.161,"v":2.61},{"s":"2.5 %","p":-0.141,"v":2.47},{"s":"2.5 %","p":-0.117,"v":2.64},{"s":"2.5 %","p":-0.096,"v":2.61},{"s":"2.5 %","p":-0.074,"v":2.38},{"s":"2.5 %","p":-0.052,"v":2.51},{"s":"2.5 %","p":-0.032,"v":2.95},{"s":"2.5 %","p":-0.009,"v":2.73},{"s":"2.5 %","p":0.011,"v":2.02},{"s":"2.5 %","p":0.032,"v":2.47},{"s":"2.5 %","p":0.053,"v":3},{"s":"2.5 %","p":0.076,"v":2.9},{"s":"2.5 %","p":0.098,"v":2.76},{"s":"2.5 %","p":0.119,"v":2.47},{"s":"2.5 %","p":0.141,"v":2.53},{"s":"2.5 %","p":0.163,"v":2.73},{"s":"2.5 %","p":0.181,"v":2.95},{"s":"2.5 %","p":0.204,"v":2.79},{"s":"2.5 %","p":0.224,"v":2.64},{"s":"2.5 %","p":0.246,"v":2.69},{"s":"2.5 %","p":0.266,"v":2.79},{"s":"2.5 %","p":0.288,"v":2.8},{"s":"2.5 %","p":0.31,"v":2.35},{"s":"2.5 %","p":0.33,"v":2.18},{"s":"2.5 %","p":0.352,"v":3.53},{"s":"2.5 %","p":0.372,"v":3.45},{"s":"2.5 %","p":0.393,"v":2.54},{"s":"2.5 %","p":0.415,"v":2.47},{"s":"2.5 %","p":0.438,"v":2.35},{"s":"2.5 %","p":0.459,"v":2.89},{"s":"2.5 %","p":0.48,"v":2.64},{"s":"2.5 %","p":0.5,"v":1.67},
{"s":"6.4 %","p":-0.5,"v":5.22},{"s":"6.4 %","p":-0.482,"v":6.2},{"s":"6.4 %","p":-0.463,"v":6.2},{"s":"6.4 %","p":-0.443,"v":6.07},{"s":"6.4 %","p":-0.419,"v":6.07},{"s":"6.4 %","p":-0.397,"v":6.2},{"s":"6.4 %","p":-0.373,"v":6.46},{"s":"6.4 %","p":-0.352,"v":6.2},{"s":"6.4 %","p":-0.33,"v":6.14},{"s":"6.4 %","p":-0.31,"v":6.57},{"s":"6.4 %","p":-0.288,"v":6.68},{"s":"6.4 %","p":-0.265,"v":6.72},{"s":"6.4 %","p":-0.246,"v":6.39},{"s":"6.4 %","p":-0.224,"v":6.17},{"s":"6.4 %","p":-0.202,"v":6.43},{"s":"6.4 %","p":-0.182,"v":6.57},{"s":"6.4 %","p":-0.161,"v":6.2},{"s":"6.4 %","p":-0.141,"v":6.46},{"s":"6.4 %","p":-0.117,"v":6.94},{"s":"6.4 %","p":-0.096,"v":6.63},{"s":"6.4 %","p":-0.074,"v":6.31},{"s":"6.4 %","p":-0.052,"v":6.72},{"s":"6.4 %","p":-0.032,"v":6.9},{"s":"6.4 %","p":-0.009,"v":6.31},{"s":"6.4 %","p":0.011,"v":5.8},{"s":"6.4 %","p":0.032,"v":6.43},{"s":"6.4 %","p":0.053,"v":7.18},{"s":"6.4 %","p":0.076,"v":6.9},{"s":"6.4 %","p":0.098,"v":6.75},{"s":"6.4 %","p":0.119,"v":6.63},{"s":"6.4 %","p":0.141,"v":6.57},{"s":"6.4 %","p":0.163,"v":6.79},{"s":"6.4 %","p":0.181,"v":6.79},{"s":"6.4 %","p":0.204,"v":6.6},{"s":"6.4 %","p":0.224,"v":6.41},{"s":"6.4 %","p":0.246,"v":6.6},{"s":"6.4 %","p":0.266,"v":6.9},{"s":"6.4 %","p":0.288,"v":6.63},{"s":"6.4 %","p":0.31,"v":6.17},{"s":"6.4 %","p":0.33,"v":6},{"s":"6.4 %","p":0.352,"v":6.68},{"s":"6.4 %","p":0.372,"v":6.97},{"s":"6.4 %","p":0.393,"v":6.43},{"s":"6.4 %","p":0.415,"v":6.66},{"s":"6.4 %","p":0.438,"v":6.41},{"s":"6.4 %","p":0.459,"v":6.08},{"s":"6.4 %","p":0.48,"v":6.07},{"s":"6.4 %","p":0.5,"v":5.37}]
},
"hconcat":[
{"vconcat":[
{"hconcat":[
{"width":42.5,"height":324,"data":{"name":"one"},"title":{"text":"(a) LC","anchor":"start","frame":"group","offset":4},"mark":{"type":"text","text":""},"encoding":{}},
{"width":63,"height":324,"title":{"text":"ε = 0.4 %","dx":4,"offset":4},"layer":[
{"data":{"name":"a1"},"mark":{"type":"rect","width":11,"height":10.7},"encoding":{"x":{"field":"c","type":"ordinal","axis":null,"scale":{"paddingInner":0,"paddingOuter":0}},"y":{"field":"r","type":"ordinal","axis":null,"scale":{"paddingInner":0,"paddingOuter":0}},"color":{"field":"v","type":"quantitative","legend":null,"scale":{"domain":[0,1.5,3,4.5,6,7.5,9,10.5,12,13.5,15],"range":["#0000dc","#0048f0","#0098f0","#00ffff","#00f0a0","#00f000","#60e000","#ffff00","#ffc800","#ff8000","#ff0000"],"interpolate":"rgb"}}}},
{"data":{"name":"tA1"},"mark":{"type":"point","filled":true,"color":"#f00000","opacity":1,"shape":"M-1,-0.78L1,0L-1,0.78Z","size":279},"encoding":{"x":{"field":"p","type":"quantitative","axis":null,"scale":{"domain":[0,1],"nice":false,"zero":false}},"y":{"field":"q","type":"quantitative","axis":null,"scale":{"domain":[0,1],"reverse":true,"nice":false,"zero":false}}}}
],"resolve":{"scale":{"x":"independent","y":"independent"}}},
{"width":64,"height":324,"title":{"text":"ε = 2.5 %","dx":3,"offset":4},"layer":[
{"data":{"name":"a2"},"mark":{"type":"rect","width":11.2,"height":10.7},"encoding":{"x":{"field":"c","type":"ordinal","axis":null,"scale":{"paddingInner":0,"paddingOuter":0}},"y":{"field":"r","type":"ordinal","axis":null,"scale":{"paddingInner":0,"paddingOuter":0}},"color":{"field":"v","type":"quantitative","legend":null,"scale":{"domain":[0,1.5,3,4.5,6,7.5,9,10.5,12,13.5,15],"range":["#0000dc","#0048f0","#0098f0","#00ffff","#00f0a0","#00f000","#60e000","#ffff00","#ffc800","#ff8000","#ff0000"],"interpolate":"rgb"}}}},
{"data":{"name":"tA2"},"mark":{"type":"point","filled":true,"color":"#f00000","opacity":1,"shape":"M-1,-0.78L1,0L-1,0.78Z","size":279},"encoding":{"x":{"field":"p","type":"quantitative","axis":null,"scale":{"domain":[0,1],"nice":false,"zero":false}},"y":{"field":"q","type":"quantitative","axis":null,"scale":{"domain":[0,1],"reverse":true,"nice":false,"zero":false}}}}
],"resolve":{"scale":{"x":"independent","y":"independent"}}},
{"width":61,"height":324,"title":{"text":"ε = 6.4 %","dx":8,"offset":-11},"layer":[
{"data":{"name":"a3"},"mark":{"type":"rect","width":10.7,"height":10.7},"encoding":{"x":{"field":"c","type":"ordinal","axis":null,"scale":{"paddingInner":0,"paddingOuter":0}},"y":{"field":"r","type":"ordinal","axis":null,"scale":{"paddingInner":0,"paddingOuter":0}},"color":{"field":"v","type":"quantitative","legend":{"type":"gradient","orient":"none","legendX":99,"legendY":-15,"title":"[%]","titlePadding":3,"gradientLength":320,"gradientThickness":11,"values":[0,3,6,9,12,15],"format":".1f","labelOffset":5},"scale":{"domain":[0,1.5,3,4.5,6,7.5,9,10.5,12,13.5,15],"range":["#0000dc","#0048f0","#0098f0","#00ffff","#00f0a0","#00f000","#60e000","#ffff00","#ffc800","#ff8000","#ff0000"],"interpolate":"rgb"}}}},
{"data":{"name":"bar"},"mark":{"type":"rule","color":"#222","opacity":0.6},"encoding":{"x":{"datum":1.62,"axis":null,"scale":{"domain":[0,1],"nice":false,"zero":false}},"x2":{"datum":1.8},"y":{"field":"k","type":"quantitative","axis":null,"scale":{"domain":[-0.047,15.14],"nice":false,"zero":false}}}}
],"resolve":{"scale":{"x":"independent","y":"independent"}}}
],"spacing":21.5,"bounds":"flush","resolve":{"scale":{"color":"independent"},"legend":{"color":"independent"}}},
{"hconcat":[
{"width":42.5,"height":324,"data":{"name":"one"},"title":{"text":"(b) T2L","anchor":"start","frame":"group","offset":1},"mark":{"type":"text","text":""},"encoding":{}},
{"width":63,"height":324,"title":{"text":"ε = 0.4 %","dx":4,"offset":1},"data":{"name":"b1"},"mark":{"type":"rect","width":13.1,"height":27.5},"encoding":{"x":{"field":"c","type":"ordinal","axis":null,"scale":{"paddingInner":0,"paddingOuter":0}},"y":{"field":"r","type":"ordinal","axis":null,"scale":{"paddingInner":0,"paddingOuter":0}},"color":{"field":"v","type":"quantitative","legend":null,"scale":{"domain":[0,1.5,3,4.5,6,7.5,9,10.5,12,13.5,15],"range":["#0000dc","#0048f0","#0098f0","#00ffff","#00f0a0","#00f000","#60e000","#ffff00","#ffc800","#ff8000","#ff0000"],"interpolate":"rgb"}}}},
{"width":64,"height":324,"title":{"text":"ε = 2.5 %","dx":3,"offset":1},"data":{"name":"b2"},"mark":{"type":"rect","width":13.3,"height":27.5},"encoding":{"x":{"field":"c","type":"ordinal","axis":null,"scale":{"paddingInner":0,"paddingOuter":0}},"y":{"field":"r","type":"ordinal","axis":null,"scale":{"paddingInner":0,"paddingOuter":0}},"color":{"field":"v","type":"quantitative","legend":null,"scale":{"domain":[0,1.5,3,4.5,6,7.5,9,10.5,12,13.5,15],"range":["#0000dc","#0048f0","#0098f0","#00ffff","#00f0a0","#00f000","#60e000","#ffff00","#ffc800","#ff8000","#ff0000"],"interpolate":"rgb"}}}},
{"width":61,"height":324,"title":{"text":"ε = 6.4 %","dx":8,"offset":-17},"layer":[
{"data":{"name":"b3"},"mark":{"type":"rect","width":12.7,"height":27.5},"encoding":{"x":{"field":"c","type":"ordinal","axis":null,"scale":{"paddingInner":0,"paddingOuter":0}},"y":{"field":"r","type":"ordinal","axis":null,"scale":{"paddingInner":0,"paddingOuter":0}},"color":{"field":"v","type":"quantitative","legend":{"type":"gradient","orient":"none","legendX":99,"legendY":-18,"title":"[%]","titlePadding":3,"gradientLength":320,"gradientThickness":11,"values":[0,3,6,9,12,15],"format":".1f","labelOffset":5},"scale":{"domain":[0,1.5,3,4.5,6,7.5,9,10.5,12,13.5,15],"range":["#0000dc","#0048f0","#0098f0","#00ffff","#00f0a0","#00f000","#60e000","#ffff00","#ffc800","#ff8000","#ff0000"],"interpolate":"rgb"}}}},
{"data":{"name":"bar"},"mark":{"type":"rule","color":"#222","opacity":0.6},"encoding":{"x":{"datum":1.62,"axis":null,"scale":{"domain":[0,1],"nice":false,"zero":false}},"x2":{"datum":1.8},"y":{"field":"k","type":"quantitative","axis":null,"scale":{"domain":[-0.1875,15],"nice":false,"zero":false}}}}
],"resolve":{"scale":{"x":"independent","y":"independent"}}}
],"spacing":21.5,"bounds":"flush","resolve":{"scale":{"color":"independent"},"legend":{"color":"independent"}}}
],"spacing":18,"resolve":{"scale":{"color":"independent"},"legend":{"color":"independent"}}},
{"vconcat":[
{"vconcat":[
{"width":100,"height":1,"data":{"name":"one"},"mark":{"type":"text","text":""},"encoding":{}},
{"width":301,"height":278.5,"title":{"text":"(c) LC","anchor":"start","frame":"group","dx":-71,"offset":2},"view":{"stroke":"#888888"},"data":{"name":"c"},"layer":[
{"mark":{"type":"line","strokeWidth":1.5},"encoding":{"x":{"field":"p","type":"quantitative","scale":{"domain":[-0.5,0.5],"nice":false,"zero":false},"axis":{"orient":"bottom","values":[-0.5,-0.25,0,0.25,0.5],"labelExpr":"(datum.value<0?'-':'')+format(abs(datum.value),'.2f')","title":"Nomalized Position","grid":true,"titlePadding":11}},"y":{"field":"v","type":"quantitative","scale":{"domain":[-0.15,12],"nice":false,"zero":false},"axis":{"orient":"left","values":[0,2,4,6,8,10,12],"title":"Strain (%)","grid":true,"titlePadding":5,"titleY":150}},"color":{"field":"s","type":"nominal","scale":{"domain":["0.4 %","2.5 %","6.4 %"],"range":["#000000","#f00000","#0000ff"]},"legend":{"orient":"none","legendX":217,"legendY":8,"title":null,"symbolType":"stroke","symbolSize":650,"symbolStrokeWidth":3.5,"labelFontSize":16,"labelOffset":13.5,"rowPadding":0}}}},
{"mark":{"type":"line","opacity":0},"encoding":{"detail":{"field":"s"},"x":{"field":"p","type":"quantitative","axis":{"orient":"bottom","values":[-0.375,-0.125,0.125,0.375],"labels":false,"title":null,"grid":false,"domain":false,"tickSize":3}},"y":{"field":"v","type":"quantitative","axis":{"orient":"left","values":[1,3,5,7,9,11],"labels":false,"title":null,"grid":false,"domain":false,"tickSize":3}}}}
],"resolve":{"axis":{"x":"independent","y":"independent"}}}
],"spacing":-30},
{"width":300,"height":280,"title":{"text":"(d) T2L","anchor":"start","frame":"group","dx":-72,"offset":-3},"view":{"stroke":"#888888"},"data":{"name":"d"},"layer":[
{"mark":{"type":"line","strokeWidth":1.5},"encoding":{"x":{"field":"p","type":"quantitative","scale":{"domain":[-0.5,0.5],"nice":false,"zero":false},"axis":{"orient":"bottom","values":[-0.5,-0.25,0,0.25,0.5],"labelExpr":"(datum.value<0?'-':'')+format(abs(datum.value),'.2f')","title":"Nomalized Position","grid":true,"titlePadding":10}},"y":{"field":"v","type":"quantitative","scale":{"domain":[-0.17,12],"nice":false,"zero":false},"axis":{"orient":"left","values":[0,2,4,6,8,10,12],"title":"Strain (%)","grid":true,"titlePadding":5,"titleY":151}},"color":{"field":"s","type":"nominal","scale":{"domain":["0.4 %","2.5 %","6.4 %"],"range":["#000000","#f00000","#0000ff"]},"legend":{"orient":"none","legendX":216,"legendY":8,"title":null,"symbolType":"stroke","symbolSize":650,"symbolStrokeWidth":3.5,"labelFontSize":16,"labelOffset":13.5,"rowPadding":0}}}},
{"mark":{"type":"line","opacity":0},"encoding":{"detail":{"field":"s"},"x":{"field":"p","type":"quantitative","axis":{"orient":"bottom","values":[-0.375,-0.125,0.125,0.375],"labels":false,"title":null,"grid":false,"domain":false,"tickSize":3}},"y":{"field":"v","type":"quantitative","axis":{"orient":"left","values":[1,3,5,7,9,11],"labels":false,"title":null,"grid":false,"domain":false,"tickSize":3}}}}
],"resolve":{"axis":{"x":"independent","y":"independent"}}}
],"spacing":14,"resolve":{"scale":{"color":"independent"},"legend":{"color":"independent"}}}
],"spacing":16,
"resolve":{"scale":{"color":"independent"},"legend":{"color":"independent"}},
"config":{"font":"Lato","view":{"stroke":null},
"title":{"font":"Lato","fontSize":17,"fontWeight":"bold","color":"#222222","limit":0},
"axis":{"labelFont":"Lato","labelFontSize":13,"labelFontWeight":"bold","labelColor":"#222222","titleFont":"Lato","titleFontSize":15,"titleFontWeight":"bold","titleColor":"#222222","domainColor":"#333333","tickColor":"#333333","gridColor":"#c8c8c8","gridDash":[1,3],"tickSize":5,"labelOverlap":false,"labelFlush":false},
"legend":{"labelFont":"Lato","labelFontSize":16,"labelFontWeight":"bold","labelColor":"#222222","titleFont":"Lato","titleFontSize":15,"titleFontWeight":"bold","titleColor":"#222222","gradientStrokeColor":"#888888","gradientStrokeWidth":1,"labelOverlap":false}}
}
